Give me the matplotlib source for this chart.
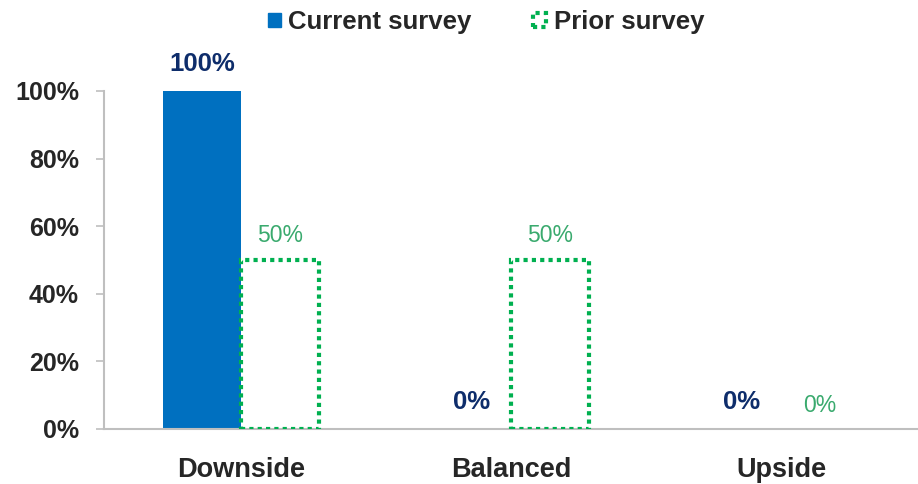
import matplotlib
matplotlib.use("Agg")
import matplotlib.pyplot as plt
from matplotlib.patches import Patch
import numpy as np

categories = ["Downside", "Balanced", "Upside"]
current = [100, 0, 0]
prior = [50, 50, 0]
yticks = [0, 20, 40, 60, 80, 100]

plt.rcParams['font.family'] = ['Liberation Sans', 'DejaVu Sans']

BLUE = "#0070C0"
GREEN = "#00B050"
NAVY = "#0E2D6B"
LGREEN = "#3AAA6E"
TXT = "#262626"

fig = plt.figure(figsize=(9.18, 4.84), dpi=100)
ax = fig.add_axes([104/918, 1-429/484, 1-104/918, (429-91)/484])

x = np.arange(len(categories))
w = 0.29
ax.bar(x - w/2, current, width=w, color=BLUE, zorder=2)
for xi, v in zip(x + w/2, prior):
    ax.bar(xi, v, width=w, facecolor="none", edgecolor=GREEN if v > 0 else "none",
           linewidth=3.0, linestyle=(0, (1, 1)), zorder=3)

for xi, v in zip(x - w/2, current):
    ax.annotate(f"{v}%", (xi, v), xytext=(0, 11), textcoords="offset points",
                ha="center", va="bottom", fontsize=18.5, fontweight="bold", color=NAVY)
for xi, v in zip(x + w/2, prior):
    ax.annotate(f"{v}%", (xi, v), xytext=(0, 9), textcoords="offset points",
                ha="center", va="bottom", fontsize=16.5, color=LGREEN)

ax.set_xlim(-0.507, 2.507)
ax.set_ylim(0, 100)
ax.set_yticks(yticks)
ax.set_yticklabels([f"{t}%" for t in yticks], fontsize=18, fontweight="bold", color=TXT)
ax.set_xticks(x)
ax.set_xticklabels(categories, fontsize=19.5, fontweight="bold", color=TXT)
ax.tick_params(axis="y", length=6, width=1.2, color="#BFBFBF", pad=12)
ax.tick_params(axis="x", length=0, pad=20)
for s in ["top", "right"]:
    ax.spines[s].set_visible(False)
ax.spines["left"].set_color("#BFBFBF")
ax.spines["left"].set_linewidth(1.5)
ax.spines["bottom"].set_color("#BFBFBF")
ax.spines["bottom"].set_linewidth(1.5)

handles = [Patch(facecolor=BLUE, edgecolor=BLUE, label="Current survey"),
           Patch(facecolor="white", edgecolor=GREEN, linestyle=(0, (1, 1)),
                 linewidth=3, label="Prior survey")]
fig.legend(handles=handles, loc="center", bbox_to_anchor=(486/918, 1-22/484), ncol=2,
           frameon=False, prop={"size": 18.5, "weight": "bold"}, handlelength=0.5,
           handleheight=0.5, handletextpad=0.3, columnspacing=2.4, labelcolor=TXT)

fig.savefig("out.png", dpi=100)
